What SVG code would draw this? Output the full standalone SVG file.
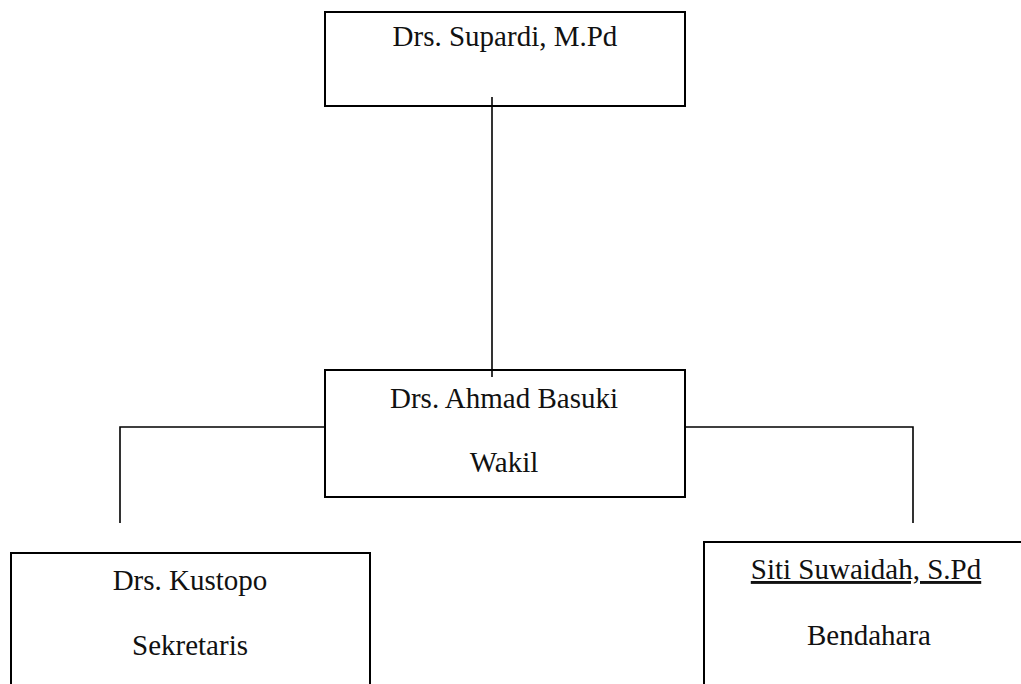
<svg xmlns="http://www.w3.org/2000/svg" width="1021" height="684" viewBox="0 0 1021 684">
<style>
.box{fill:#fff;stroke:#000;stroke-width:2}
.con{fill:none;stroke:#000;stroke-width:1.6}
.t{font-family:"Liberation Serif","Times New Roman",serif;font-size:29px;fill:#111;text-anchor:middle}
</style>
<rect width="1021" height="684" fill="#fff"/>
<g id="node-supardi">
<rect class="box" x="325" y="12" width="360" height="94"/>
<text class="t" x="505" y="46">Drs. Supardi, M.Pd</text>
</g>
<g id="node-basuki">
<rect class="box" x="325" y="370" width="360" height="127"/>
<text class="t" x="504" y="408">Drs. Ahmad Basuki</text>
<text class="t" x="504" y="472">Wakil</text>
</g>
<g id="node-kustopo">
<rect class="box" x="11" y="553" width="359" height="140"/>
<text class="t" x="190" y="590">Drs. Kustopo</text>
<text class="t" x="190" y="655">Sekretaris</text>
</g>
<g id="node-siti">
<rect class="box" x="704" y="542" width="330" height="150"/>
<text class="t" x="866" y="579" text-decoration="underline">Siti Suwaidah, S.Pd</text>
<text class="t" x="869" y="645">Bendahara</text>
</g>
<g id="connectors">
<path class="con" d="M492 97 V377"/>
<path class="con" d="M325 427 H120 V523"/>
<path class="con" d="M685 427 H913 V523"/>
</g>
</svg>
